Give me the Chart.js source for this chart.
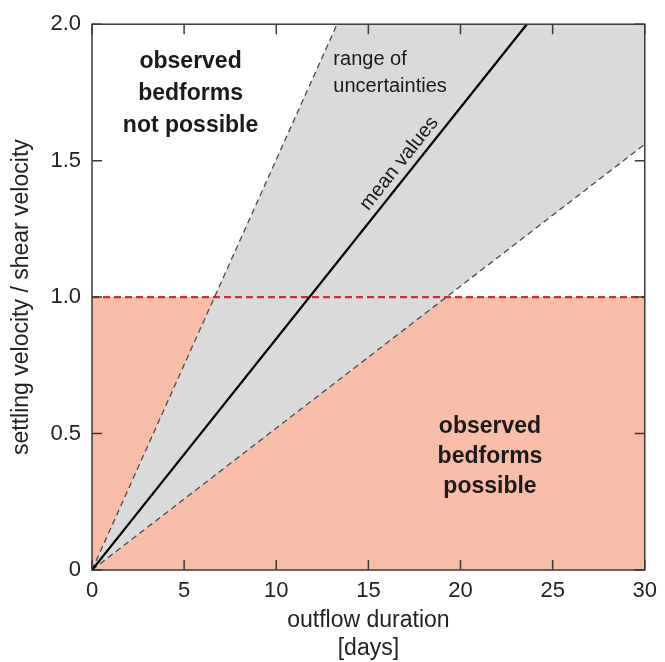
<!DOCTYPE html>
<html lang="en">
<head>
    <meta charset="UTF-8">
    <title>Settling velocity vs outflow duration</title>
    <style>
        html, body { margin: 0; padding: 0; background: #fff; }
        #wrap { width: 665px; height: 662px; }
    </style>
</head>
<body>
    <div id="wrap"><canvas id="chart" width="665" height="662"></canvas></div>

    <script src="https://cdn.jsdelivr.net/npm/chart.js"></script>
    <script>
        // data
        const xTicks = [0, 5, 10, 15, 20, 25, 30];
        const yTicks = [0, 0.5, 1.0, 1.5, 2.0];
        const yTickLabels = ['0', '0.5', '1.0', '1.5', '2.0'];

        const meanX = [0, 23.6];
        const meanY = [0, 2.0];
        const upperX = [0, 13.3];
        const upperY = [0, 2.0];
        const lowerX = [0, 30];
        const lowerY = [0, 1.56];
        const thresholdX = [0, 30];
        const thresholdY = [1.0, 1.0];

        const xMax = 30;
        const yMax = 2.0;

        const toPoints = (xs, ys) => xs.map((x, i) => ({x: x, y: ys[i]}));

        // polygon for the uncertainty wedge: upper line, top-right corner, lower line back to origin
        const wedge = toPoints(upperX, upperY)
            .concat([{x: xMax, y: yMax}])
            .concat(toPoints(lowerX, lowerY).reverse());

        const FONT = '"Liberation Sans", Arial, Helvetica, sans-serif';

        // text labels inside the plot, positioned in data units
        const notPossibleLines = ['observed', 'bedforms', 'not possible'];
        const notPossibleX = 5.35;
        const notPossibleY = [1.862, 1.745, 1.627];
        const possibleLines = ['observed', 'bedforms', 'possible'];
        const possibleX = 21.6;
        const possibleY = [0.525, 0.415, 0.305];
        const rangeLines = ['range of', 'uncertainties'];
        const rangeX = 13.1;
        const rangeY = [1.872, 1.772];
        const meanLabel = 'mean values';
        const meanLabelY = 1.46;

        const decorPlugin = {
            id: 'decor',
            afterDraw(chart) {
                const ctx = chart.ctx;
                const a = chart.chartArea;
                const xs = chart.scales.x;
                const ys = chart.scales.y;
                ctx.save();

                // frame
                ctx.strokeStyle = '#3a3a3a';
                ctx.lineWidth = 1.5;
                ctx.strokeRect(a.left, a.top, a.right - a.left, a.bottom - a.top);

                // inward ticks on all four sides
                const tl = 10;
                ctx.beginPath();
                xTicks.forEach(v => {
                    const px = xs.getPixelForValue(v);
                    ctx.moveTo(px, a.bottom); ctx.lineTo(px, a.bottom - tl);
                    ctx.moveTo(px, a.top); ctx.lineTo(px, a.top + tl);
                });
                yTicks.forEach(v => {
                    const py = ys.getPixelForValue(v);
                    ctx.moveTo(a.left, py); ctx.lineTo(a.left + tl, py);
                    ctx.moveTo(a.right, py); ctx.lineTo(a.right - tl, py);
                });
                ctx.stroke();

                ctx.fillStyle = '#1a1a1a';
                ctx.textBaseline = 'middle';

                // bold region labels
                ctx.font = 'bold 23px ' + FONT;
                ctx.textAlign = 'center';
                notPossibleLines.forEach((t, i) => {
                    ctx.fillText(t, xs.getPixelForValue(notPossibleX), ys.getPixelForValue(notPossibleY[i]));
                });
                possibleLines.forEach((t, i) => {
                    ctx.fillText(t, xs.getPixelForValue(possibleX), ys.getPixelForValue(possibleY[i]));
                });

                ctx.font = '20px ' + FONT;
                ctx.textAlign = 'left';
                rangeLines.forEach((t, i) => {
                    ctx.fillText(t, xs.getPixelForValue(rangeX), ys.getPixelForValue(rangeY[i]));
                });

                // label along the mean line
                const x0 = xs.getPixelForValue(meanX[0]), y0 = ys.getPixelForValue(meanY[0]);
                const x1 = xs.getPixelForValue(meanX[1]), y1 = ys.getPixelForValue(meanY[1]);
                const ang = Math.atan2(y1 - y0, x1 - x0);
                const f = (meanLabelY - meanY[0]) / (meanY[1] - meanY[0]);
                const cx = x0 + (x1 - x0) * f, cy = y0 + (y1 - y0) * f;
                ctx.translate(cx, cy);
                ctx.rotate(ang);
                ctx.textAlign = 'center';
                ctx.textBaseline = 'bottom';
                ctx.font = '20px ' + FONT;
                ctx.fillText(meanLabel, 0, -3);

                ctx.restore();
            }
        };

        new Chart(document.getElementById('chart').getContext('2d'), {
            type: 'scatter',
            data: {
                datasets: [
                    {
                        label: 'mean values',
                        data: toPoints(meanX, meanY),
                        showLine: true,
                        borderColor: '#000',
                        borderWidth: 2.2,
                        pointRadius: 0,
                        fill: false
                    },
                    {
                        label: 'upper bound',
                        data: toPoints(upperX, upperY),
                        showLine: true,
                        borderColor: '#4a4a4a',
                        borderWidth: 1.3,
                        borderDash: [6, 4],
                        pointRadius: 0,
                        fill: false
                    },
                    {
                        label: 'lower bound',
                        data: toPoints(lowerX, lowerY),
                        showLine: true,
                        borderColor: '#4a4a4a',
                        borderWidth: 1.3,
                        borderDash: [6, 4],
                        pointRadius: 0,
                        fill: false
                    },
                    {
                        label: 'threshold',
                        data: toPoints(thresholdX, thresholdY),
                        showLine: true,
                        borderColor: '#d42a36',
                        borderWidth: 2.4,
                        borderDash: [7, 4],
                        pointRadius: 0,
                        fill: false
                    },
                    {
                        label: 'range of uncertainties',
                        data: wedge,
                        showLine: true,
                        borderWidth: 0,
                        borderColor: 'rgba(0,0,0,0)',
                        backgroundColor: '#dadada',
                        pointRadius: 0,
                        fill: 'shape'
                    },
                    {
                        label: 'bedforms possible',
                        data: toPoints(thresholdX, thresholdY),
                        showLine: true,
                        borderWidth: 0,
                        borderColor: 'rgba(0,0,0,0)',
                        backgroundColor: '#f8bda6',
                        pointRadius: 0,
                        fill: 'origin'
                    }
                ]
            },
            options: {
                responsive: false,
                animation: false,
                layout: { padding: { top: 18, right: 17, left: 0, bottom: 0 } },
                plugins: {
                    legend: { display: false },
                    tooltip: { enabled: false }
                },
                scales: {
                    x: {
                        type: 'linear',
                        min: 0,
                        max: xMax,
                        afterFit: s => { s.height = 92; },
                        afterBuildTicks: s => { s.ticks = xTicks.map(v => ({value: v})); },
                        grid: { display: false, drawTicks: false },
                        border: { display: false },
                        ticks: {
                            color: '#222',
                            padding: 8,
                            maxRotation: 0,
                            font: { family: FONT, size: 22 }
                        },
                        title: {
                            display: true,
                            text: ['outflow duration', '[days]'],
                            color: '#222',
                            padding: { top: 0, bottom: 0 },
                            font: { family: FONT, size: 23, lineHeight: 1.2 }
                        }
                    },
                    y: {
                        type: 'linear',
                        min: 0,
                        max: yMax,
                        afterFit: s => { s.width = 92; },
                        afterBuildTicks: s => { s.ticks = yTicks.map(v => ({value: v})); },
                        grid: { display: false, drawTicks: false },
                        border: { display: false },
                        ticks: {
                            color: '#222',
                            padding: 11,
                            font: { family: FONT, size: 22 },
                            callback: v => yTickLabels[yTicks.indexOf(v)]
                        },
                        title: {
                            display: true,
                            text: 'settling velocity / shear velocity',
                            color: '#222',
                            padding: { top: 8, bottom: 0 },
                            font: { family: FONT, size: 23, lineHeight: 1.2 }
                        }
                    }
                }
            },
            plugins: [decorPlugin]
        });
    </script>
</body>
</html>
